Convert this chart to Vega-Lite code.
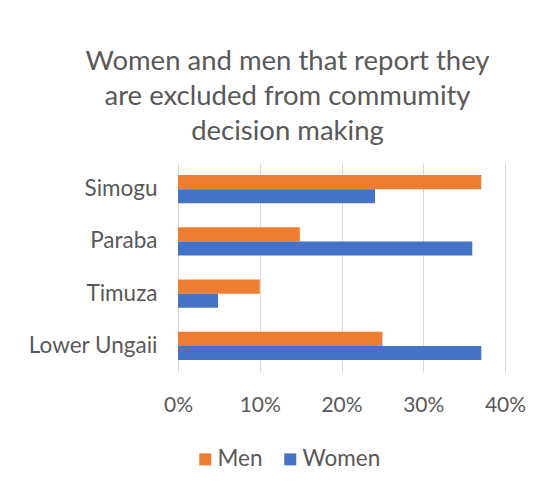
{
  "$schema": "https://vega.github.io/schema/vega-lite/v6.json",
  "width": 327,
  "height": 209,
  "autosize": {"type": "none"},
  "padding": {"left": 178, "top": 163, "right": 45, "bottom": 116},
  "background": "white",
  "title": {
    "text": ["Women and men that report they", "are excluded from commumity", "decision making"],
    "font": "Lato",
    "fontSize": 27.5,
    "fontWeight": "normal",
    "color": "#595959",
    "lineHeight": 35,
    "anchor": "middle",
    "dx": -54,
    "offset": 18
  },
  "data": {
    "values": [
      {"village": "Simogu", "series": "Men", "value": 0.371},
      {"village": "Simogu", "series": "Women", "value": 0.241},
      {"village": "Paraba", "series": "Men", "value": 0.149},
      {"village": "Paraba", "series": "Women", "value": 0.36},
      {"village": "Timuza", "series": "Men", "value": 0.10},
      {"village": "Timuza", "series": "Women", "value": 0.049},
      {"village": "Lower Ungaii", "series": "Men", "value": 0.25},
      {"village": "Lower Ungaii", "series": "Women", "value": 0.371}
    ]
  },
  "mark": {"type": "bar"},
  "encoding": {
    "y": {
      "field": "village",
      "type": "nominal",
      "sort": ["Simogu", "Paraba", "Timuza", "Lower Ungaii"],
      "scale": {"paddingInner": 0.464, "paddingOuter": 0.232},
      "axis": {
        "title": null,
        "ticks": false,
        "domainColor": "#d9d9d9",
        "domainWidth": 1,
        "labelFont": "Lato",
        "labelFontSize": 22.5,
        "labelColor": "#595959",
        "labelPadding": 21
      }
    },
    "yOffset": {
      "field": "series",
      "type": "nominal",
      "sort": ["Men", "Women"],
      "scale": {"paddingInner": 0, "paddingOuter": 0}
    },
    "x": {
      "field": "value",
      "type": "quantitative",
      "scale": {"domain": [0, 0.4], "nice": false},
      "axis": {
        "title": null,
        "format": ".0%",
        "values": [0, 0.1, 0.2, 0.3, 0.4],
        "domain": false,
        "ticks": false,
        "grid": true,
        "gridColor": "#d9d9d9",
        "gridWidth": 1,
        "labelFont": "Lato",
        "labelFontSize": 21,
        "labelColor": "#595959",
        "labelPadding": 22,
        "labelFlush": false
      }
    },
    "color": {
      "field": "series",
      "type": "nominal",
      "sort": ["Men", "Women"],
      "scale": {"domain": ["Men", "Women"], "range": ["#ED7D31", "#4472C4"]},
      "legend": {
        "title": null,
        "orient": "none",
        "legendX": 16,
        "legendY": 285,
        "direction": "horizontal",
        "symbolType": "square",
        "symbolSize": 144,
        "symbolStrokeWidth": 0,
        "labelFont": "Lato",
        "labelFontSize": 22.5,
        "labelColor": "#595959",
        "labelOffset": 1,
        "columnPadding": 16
      }
    }
  },
  "config": {"view": {"stroke": null}}
}
